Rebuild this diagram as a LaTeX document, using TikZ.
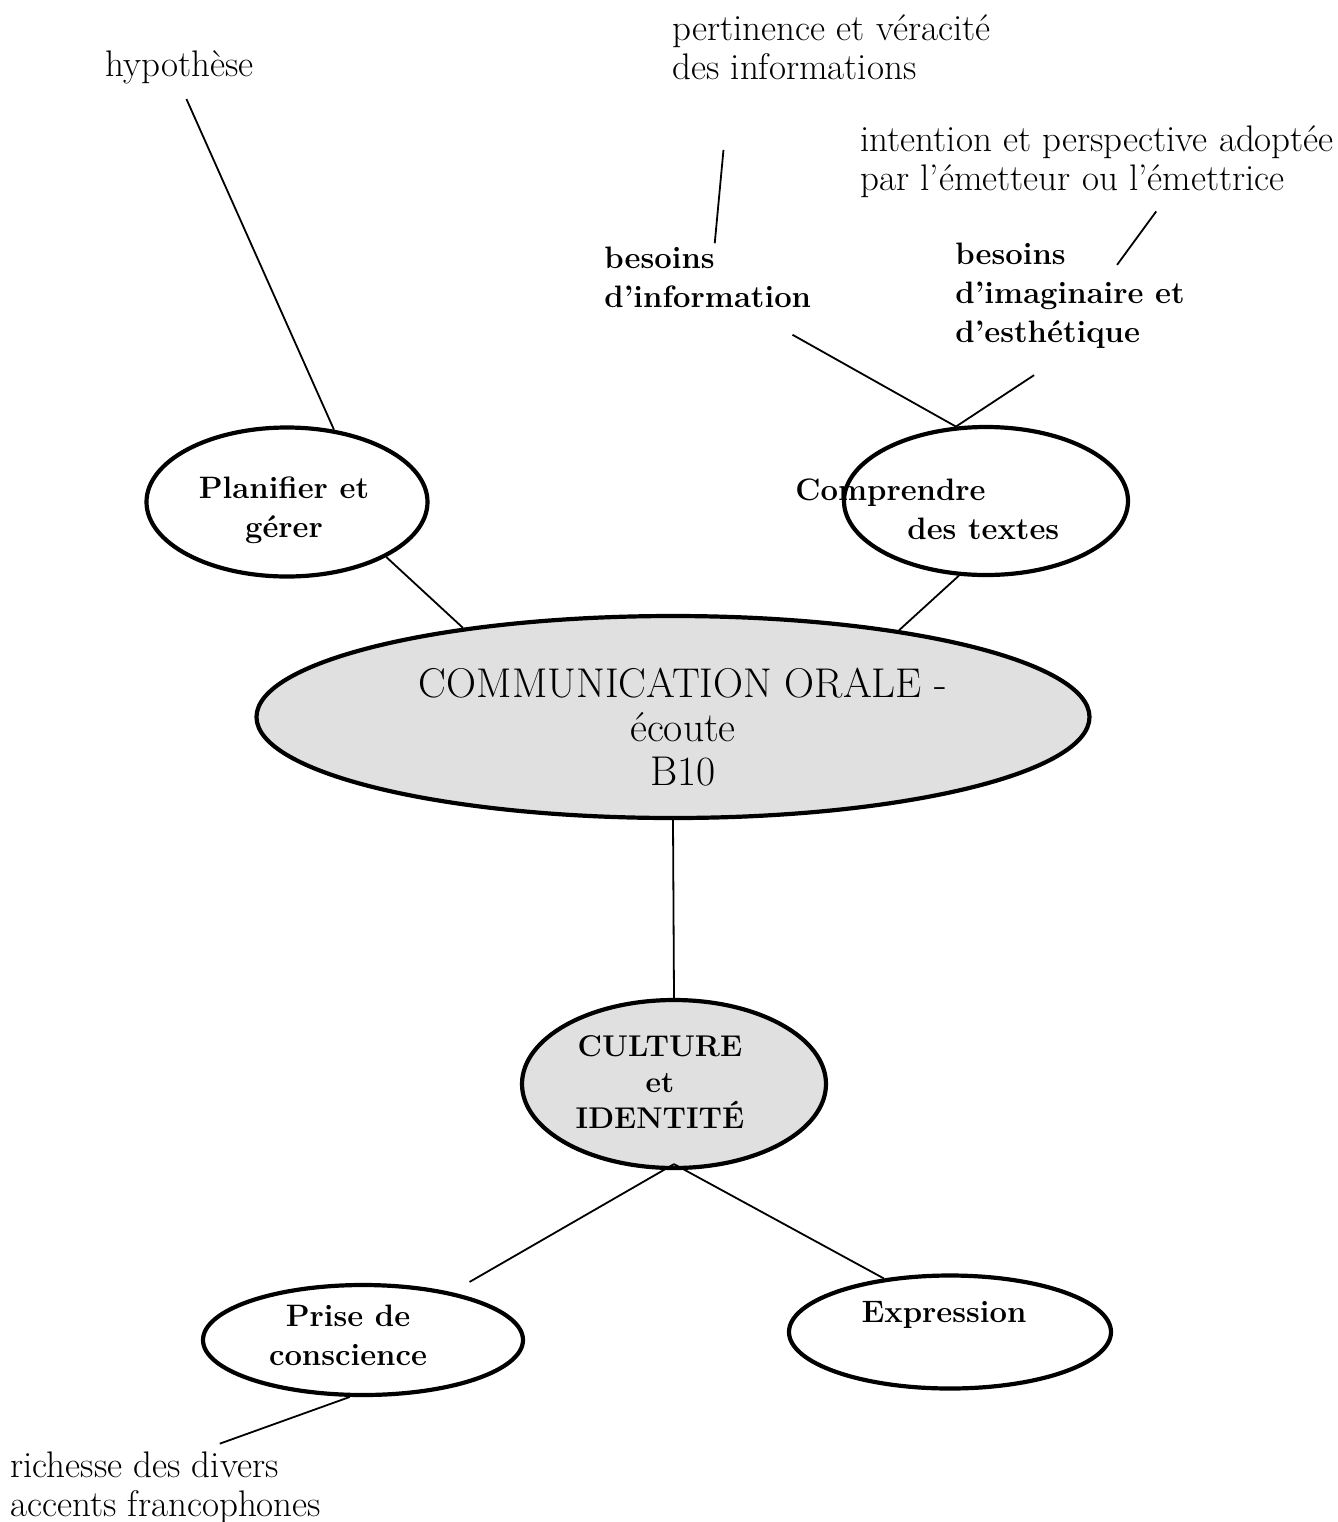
\documentclass[tikz,border=0pt]{standalone}
\usepackage{tikz}
\usetikzlibrary{shapes,calc,positioning}
\definecolor{ovalgray}{RGB}{224,224,224}
\newcommand{\txtfont}{\fontsize{18.5}{19.5}\selectfont}
\newcommand{\lblfont}{\fontsize{15.5}{19.5}\selectfont\bfseries}
\newcommand{\bigfont}{\fontsize{20.8}{22}\selectfont}

\begin{document}
\begin{tikzpicture}[x=0.5pt, y=-0.5pt,
  oval/.style={ellipse, draw, line width=2.1pt, inner sep=0pt},
  note/.style={anchor=west, align=left, inner sep=0pt, font=\txtfont},
  lbl/.style={align=center, inner sep=0pt, font=\lblfont},
  link/.style={line width=0.9pt}]
\useasboundingbox (0,0) rectangle (1338,1522);

\node[oval, fill=ovalgray, minimum width=416.5pt, minimum height=101pt] (main) at (673,717) {};
\node[oval, minimum width=140.5pt, minimum height=74.5pt] (plan) at (287,502) {};
\node[oval, minimum width=142pt, minimum height=74pt] (comp) at (986,501) {};
\node[oval, fill=ovalgray, minimum width=152pt, minimum height=84pt] (cult) at (674,1084) {};
\node[oval, minimum width=160pt, minimum height=55pt] (prise) at (363,1340) {};
\node[oval, minimum width=161pt, minimum height=56.5pt] (expr) at (950,1332) {};

\node[font=\bigfont, align=center, inner sep=0pt] (main-txt) at (683,727) {COMMUNICATION ORALE -\\ écoute\\ B10};
\node[lbl] (plan-txt) at (284,510) {Planifier et\\ gérer};
\node[lbl, anchor=west, align=left] (comp-txt) at (795,509) {Comprendre\\ \hspace*{56pt}des textes};
\node[lbl, font=\fontsize{15}{18}\selectfont\bfseries] (cult-txt) at (660,1082) {CULTURE\\ et\\ IDENTITÉ};
\node[lbl] (prise-txt) at (348,1335) {Prise de\\ conscience};
\node[lbl] (expr-txt) at (944,1315) {Expression};

\node[note] (hyp) at (105,67) {hypothèse};
\node[note] (pert) at (672,47) {pertinence et véracité\\ des informations};
\node[note] (intent) at (860,162) {intention et perspective adoptée\\ par l'émetteur ou l'émettrice};
\node[lbl, anchor=west, align=left] (binfo) at (604,277) {besoins\\ d'information};
\node[lbl, anchor=west, align=left] (bimag) at (955,296) {besoins\\ d'imaginaire et\\ d'esthétique};
\node[note] (rich) at (10,1488) {richesse des divers\\ accents francophones};

\draw[link] ([shift={(7,15)}]hyp.south) -- (plan.57);
\draw[link] (plan.-29) -- (main.157);
\draw[link] (comp.-110) -- (main.21);
\draw[link] (main.south) -- (cult.north);
\draw[link] ([yshift=3pt]cult.south) -- ([shift={(0,-15)}]prise.22);
\draw[link] ([yshift=3pt]cult.south) -- (expr.141);
\draw[link] (prise.-103) -- ([shift={(54,-8)}]rich.north);
\draw[link] (comp.112) -- ([shift={(-19,27)}]binfo.south east);
\draw[link] (comp.112) -- ([shift={(-36,26)}]bimag.south);
\draw[link] ([shift={(7,-3)}]binfo.north) -- ([shift={(-108,70)}]pert.south);
\draw[link] ([shift={(-68,22)}]bimag.north east) -- ([shift={(59,13)}]intent.south);
\end{tikzpicture}
\end{document}
